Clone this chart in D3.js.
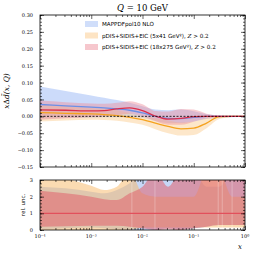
<!doctype html>
<html>
  <head>
    <meta charset="UTF-8">
    <title>xDbar_d</title>
    <script src="https://d3js.org/d3.v7.min.js"></script>
    <style>
      body { margin: 0; background: #fff; }
      svg { display: block; }
      .tick text { font-family: "DejaVu Serif", serif; font-size: 5px; fill: #000; }
      .domain { display: none; }
      .tick line { stroke: #000; stroke-width: 0.6px; }
    </style>
  </head>
  <body>
    <svg id="chart" width="254" height="254"></svg>
    <script>
      // x grid (log10 x = -4 ... 0 in quarter steps, first step half a decade)
      const xGrid = [1e-4, 3.16e-4, 1e-3, 1.78e-3, 3.16e-3, 5.62e-3, 1e-2, 1.78e-2, 3.16e-2, 5.62e-2, 0.1, 0.178, 0.316, 0.562, 1];

      // top panel: x Delta dbar
      const mapCentral = [0.035, 0.031, 0.027, 0.025, 0.022, 0.018, 0.010, 0.0, -0.006, -0.007, -0.003, 0.0, 0.0, 0.0, 0.0];
      const mapUpper   = [0.088, 0.075, 0.062, 0.055, 0.048, 0.040, 0.030, 0.020, 0.018, 0.020, 0.015, 0.006, 0.002, 0.001, 0.0];
      const mapLower   = [-0.006, -0.005, -0.004, -0.003, -0.003, -0.003, -0.005, -0.014, -0.020, -0.020, -0.015, -0.008, -0.005, -0.003, -0.001];

      const eic5Central = [0.011, 0.009, 0.007, 0.005, 0.002, -0.003, -0.010, -0.020, -0.030, -0.037, -0.035, -0.020, -0.001, 0.0, 0.0];
      const eic5Upper   = [0.035, 0.030, 0.025, 0.022, 0.018, 0.010, 0.0, -0.005, -0.012, -0.018, -0.015, -0.005, 0.003, 0.001, 0.0];
      const eic5Lower   = [-0.015, -0.012, -0.010, -0.011, -0.013, -0.018, -0.025, -0.038, -0.050, -0.057, -0.055, -0.035, -0.008, -0.002, 0.0];

      const eic18Central = [0.019, 0.018, 0.016, 0.017, 0.022, 0.025, 0.017, 0.001, -0.008, -0.006, -0.001, 0.0, 0.0, 0.0, 0.0];
      const eic18Upper   = [0.047, 0.042, 0.038, 0.037, 0.040, 0.045, 0.036, 0.016, 0.014, 0.022, 0.020, 0.008, 0.002, 0.001, 0.0];
      const eic18Lower   = [-0.010, -0.006, -0.002, 0.0, 0.004, 0.008, 0.0, -0.014, -0.025, -0.025, -0.016, -0.006, -0.002, -0.001, 0.0];

      // bottom panel: relative uncertainty bands
      const relMapUpper  = [2.6, 2.5, 2.3, 2.2, 2.4, 2.8, 3.5, 3.5, 3.5, 3.5, 3.5, 2.6, 2.6, 3.5, 3.5];
      const relMapLower  = [0.05, 0.1, 0.15, 0.1, 0.05, 0.0, 0.0, 0.0, 0.1, 0.05, 0.1, 0.2, 0.3, 0.3, 0.3];
      const relEic5Upper = [3.5, 3.1, 2.65, 2.4, 2.6, 3.5, 2.2, 2.0, 2.0, 2.0, 2.0, 3.5, 3.5, 2.0, 2.0];
      const relEic5Lower = [0.0, 0.0, 0.0, 0.0, 0.0, 0.0, 0.15, 0.15, 0.15, 0.15, 0.15, 0.15, 0.15, 0.15, 0.15];
      const relEic18Upper = [2.35, 2.2, 2.0, 1.85, 1.8, 2.2, 2.6, 3.5, 2.6, 3.5, 3.5, 3.5, 3.5, 3.5, 3.5];
      const relEic18Lower = [0.2, 0.22, 0.25, 0.25, 0.25, 0.2, 0.1, 0.0, 0.05, 0.0, 0.1, 0.2, 0.3, 0.3, 0.3];
      const spikeX = [6.2e-3, 1.75e-2, 0.3, 0.36, 0.56];

      const legendLabels = ["MAPPDFpol10 NLO", "pDIS+SIDIS+EIC (5x41 GeV²), ", "pDIS+SIDIS+EIC (18x275 GeV²), "];
      const yTopTicks = [-0.15, -0.10, -0.05, 0.0, 0.05, 0.10, 0.15, 0.20, 0.25, 0.30];
      const yBotTicks = [0, 1, 2, 3];
      const xMajor = [1e-4, 1e-3, 1e-2, 1e-1, 1];
      const xLabels = ["10⁻⁴", "10⁻³", "10⁻²", "10⁻¹", "10⁰"];

      const colBlue = { line: "#6b8fe6", band: "#a2bdf5", rel: "#8fb0f0", op: 0.55 };
      const colOrange = { line: "#f5a21e", band: "#fbc98a", rel: "#f7b865", op: 0.45 };
      const colRed = { line: "#dc2f4b", band: "#ee8f9c", rel: "#e0606e", op: 0.45 };

      const svg = d3.select("#chart");
      const L = 40, R = 245;
      const x = d3.scaleLog().domain([1e-4, 1]).range([L, R]);
      const yTop = d3.scaleLinear().domain([-0.15, 0.30]).range([167, 15]);
      const yBot = d3.scaleLinear().domain([0, 3]).range([230, 180]);

      const defs = svg.append("defs");
      defs.append("clipPath").attr("id", "clipTop").append("rect")
        .attr("x", L).attr("y", 15).attr("width", R - L).attr("height", 152);
      defs.append("clipPath").attr("id", "clipBot").append("rect")
        .attr("x", L).attr("y", 180).attr("width", R - L).attr("height", 50);

      const idx = d3.range(xGrid.length);
      function band(y, lo, hi) {
        return d3.area().curve(d3.curveMonotoneX)
          .x(i => x(xGrid[i])).y0(i => y(lo[i])).y1(i => y(hi[i]))(idx);
      }
      function line(y, v) {
        return d3.line().curve(d3.curveMonotoneX)
          .x(i => x(xGrid[i])).y(i => y(v[i]))(idx);
      }

      // ---- top panel
      const gTop = svg.append("g").attr("clip-path", "url(#clipTop)");
      [[mapLower, mapUpper, colBlue], [eic5Lower, eic5Upper, colOrange], [eic18Lower, eic18Upper, colRed]]
        .forEach(([lo, hi, c]) => {
          gTop.append("path").attr("d", band(yTop, lo, hi)).attr("fill", c.band).attr("fill-opacity", c.op);
        });
      [[mapCentral, colBlue], [eic5Central, colOrange], [eic18Central, colRed]].forEach(([v, c]) => {
        gTop.append("path").attr("d", line(yTop, v)).attr("fill", "none")
          .attr("stroke", c.line).attr("stroke-width", 1.3);
      });
      gTop.append("line").attr("x1", L).attr("x2", R).attr("y1", yTop(0)).attr("y2", yTop(0))
        .attr("stroke", "#000").attr("stroke-width", 0.8).attr("stroke-dasharray", "2,1.5");

      // ---- bottom panel
      const gBot = svg.append("g").attr("clip-path", "url(#clipBot)");
      [[relMapLower, relMapUpper, colBlue, 0.5], [relEic5Lower, relEic5Upper, colOrange, 0.5], [relEic18Lower, relEic18Upper, colRed, 0.55]]
        .forEach(([lo, hi, c, op]) => {
          gBot.append("path").attr("d", band(yBot, lo, hi)).attr("fill", c.rel).attr("fill-opacity", op);
        });
      gBot.selectAll("line.spike").data(spikeX).join("line").attr("class", "spike")
        .attr("x1", d => x(d)).attr("x2", d => x(d)).attr("y1", 180).attr("y2", 230)
        .attr("stroke", "#fff").attr("stroke-opacity", 0.35).attr("stroke-width", 0.8);
      gBot.append("line").attr("x1", L).attr("x2", R).attr("y1", yBot(1)).attr("y2", yBot(1))
        .attr("stroke", "#e2505c").attr("stroke-width", 1.4);

      // ---- axes (ticks inward on all sides)
      function frame(y, top, bottom, majorY, minorY, showXLabels) {
        svg.append("rect").attr("x", L).attr("y", top).attr("width", R - L).attr("height", bottom - top)
          .attr("fill", "none").attr("stroke", "#000").attr("stroke-width", 0.8);
        const minorX = x.ticks().filter(t => !xMajor.includes(t));
        const put = (axis, tx, ty) => svg.append("g").attr("transform", `translate(${tx},${ty})`).call(axis);
        put(d3.axisBottom(x).tickValues(xMajor).tickSize(-4).tickFormat(""), 0, bottom);
        put(d3.axisBottom(x).tickValues(minorX).tickSize(-2).tickFormat(""), 0, bottom);
        put(d3.axisTop(x).tickValues(xMajor).tickSize(-4).tickFormat(""), 0, top);
        put(d3.axisTop(x).tickValues(minorX).tickSize(-2).tickFormat(""), 0, top);
        put(d3.axisLeft(y).tickValues(majorY.v).tickSize(-4).tickPadding(7).tickFormat(majorY.f), L, 0);
        put(d3.axisLeft(y).tickValues(minorY).tickSize(-2).tickFormat(""), L, 0);
        put(d3.axisRight(y).tickValues(majorY.v).tickSize(-4).tickFormat(""), R, 0);
        put(d3.axisRight(y).tickValues(minorY).tickSize(-2).tickFormat(""), R, 0);
        if (showXLabels) {
          svg.selectAll("text.xl").data(xMajor).join("text").attr("class", "xl")
            .attr("x", d => x(d)).attr("y", bottom + 8).attr("text-anchor", "middle")
            .attr("font-family", "DejaVu Serif, serif").attr("font-size", 5)
            .text((d, i) => xLabels[i]);
        }
      }
      const fmtTop = d => (d < 0 ? "−" : "") + Math.abs(d).toFixed(2);
      frame(yTop, 15, 167, { v: yTopTicks, f: fmtTop }, d3.range(-0.15, 0.3001, 0.01), false);
      frame(yBot, 180, 230, { v: yBotTicks, f: d3.format("d") }, d3.range(0, 3.001, 0.2), true);

      // ---- titles and labels
      const title = svg.append("text").attr("x", 142.5).attr("y", 11).attr("text-anchor", "middle")
        .attr("font-family", "DejaVu Serif, serif").attr("font-size", 8.5);
      title.append("tspan").attr("font-style", "italic").text("Q");
      title.append("tspan").text(" = 10 GeV");

      const yl = svg.append("text").attr("transform", "translate(9,91) rotate(-90)").attr("text-anchor", "middle")
        .attr("font-family", "DejaVu Serif, serif").attr("font-size", 7.5).attr("font-style", "italic");
      yl.append("tspan").text("x");
      yl.append("tspan").attr("font-style", "normal").text("Δ");
      yl.append("tspan").text("d\u0304(x, Q)");

      svg.append("text").attr("transform", "translate(25,205) rotate(-90)").attr("text-anchor", "middle")
        .attr("font-family", "DejaVu Sans, sans-serif").attr("font-size", 5.5).text("rel. unc.");
      svg.append("text").attr("x", 240).attr("y", 249).attr("text-anchor", "middle")
        .attr("font-family", "DejaVu Serif, serif").attr("font-size", 7).attr("font-style", "italic").text("x");

      // ---- legend
      const legCols = [colBlue, colOrange, colRed];
      const leg = svg.append("g");
      legendLabels.forEach((lab, i) => {
        const yy = 24 + i * 11.5;
        leg.append("rect").attr("x", 85).attr("y", yy - 3).attr("width", 13).attr("height", 6)
          .attr("fill", legCols[i].band).attr("fill-opacity", 0.5);
        const t = leg.append("text").attr("x", 102).attr("y", yy + 2)
          .attr("font-family", "DejaVu Sans, sans-serif").attr("font-size", 5.6).text(lab);
        if (i > 0) {
          t.append("tspan").attr("font-family", "DejaVu Serif, serif").attr("font-style", "italic").text("Z");
          t.append("tspan").attr("font-family", "DejaVu Serif, serif").text(" > 0.2");
        }
      });
    </script>
  </body>
</html>
